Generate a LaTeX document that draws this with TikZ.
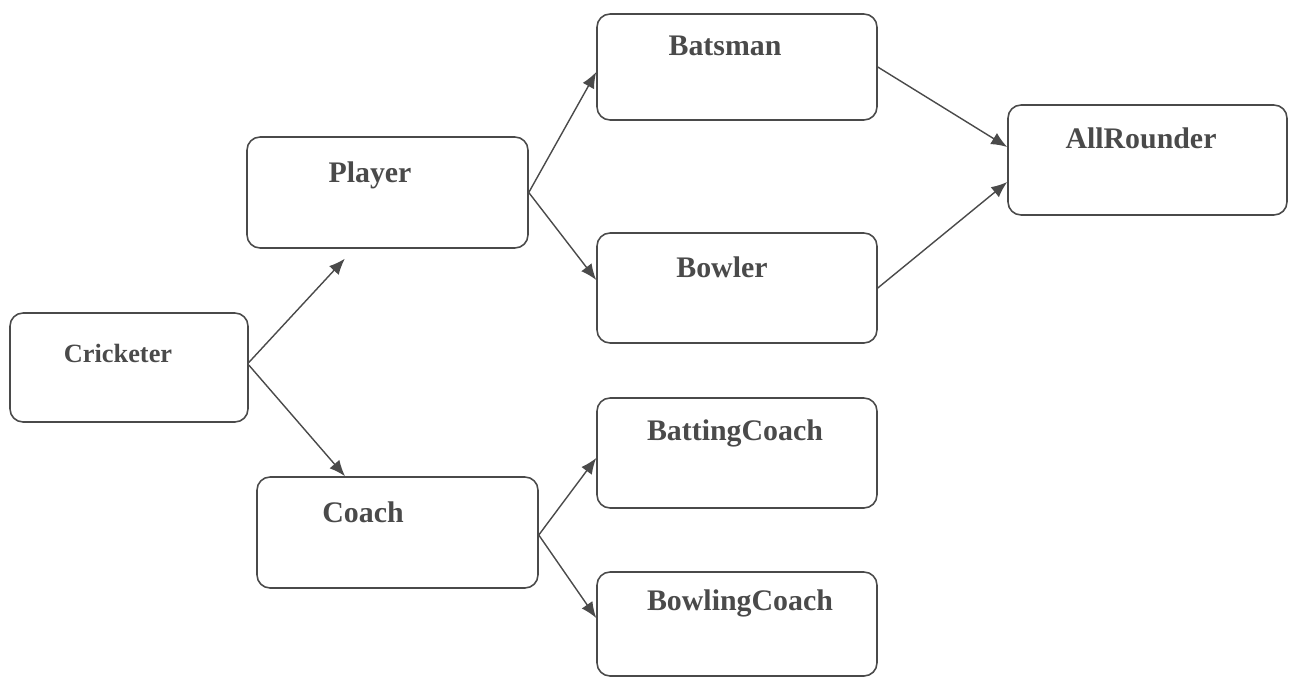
\documentclass[tikz,border=0pt]{standalone}
\usepackage{fontspec}
\setmainfont{Liberation Serif}
\usetikzlibrary{arrows.meta}
\definecolor{inkgray}{HTML}{4A4A4A}
\tikzset{%
    box/.style={draw=inkgray, line width=0.9pt, rounded corners=2.6mm,
    	minimum width=5.6cm, minimum height=2.2cm, inner sep=0pt},
    lbl/.style={anchor=base, text=inkgray,
    	font=\fontsize{17}{20}\selectfont\bfseries},
    link/.style={draw=inkgray, line width=0.8pt,
    	-{Latex[length=3.2mm, width=2.6mm]}}
}

\begin{document}
\begin{tikzpicture}[x=0.02cm, y=-0.02cm]
  \useasboundingbox (0,0) rectangle (1292,677);

  \node (cricketer) [box, minimum width=4.76cm, minimum height=2.18cm] at (129, 367.5) {};
  \node (player) [box, minimum width=5.62cm, minimum height=2.22cm] at (387.5, 192.5) {};
  \node (coach) [box, minimum width=5.62cm, minimum height=2.22cm] at (397.5, 532.5) {};
  \node (batsman) [box, minimum height=2.12cm] at (737, 67) {};
  \node (bowler) [box] at (737, 288) {};
  \node (battingcoach) [box] at (737, 453) {};
  \node (bowlingcoach) [box, minimum height=2.08cm] at (737, 624) {};
  \node (allrounder) [box, minimum width=5.58cm] at (1147.5, 160) {};

  \node (cricketer-t) [lbl, font=\fontsize{15}{18}\selectfont\bfseries] at (118, 362) {Cricketer};
  \node (player-t) [lbl] at (370, 182) {Player};
  \node (coach-t) [lbl] at (363, 522) {Coach};
  \node (batsman-t) [lbl] at (725, 55) {Batsman};
  \node (bowler-t) [lbl] at (722, 277) {Bowler};
  \node (battingcoach-t) [lbl] at (735, 440) {BattingCoach};
  \node (bowlingcoach-t) [lbl] at (740, 610) {BowlingCoach};
  \node (allrounder-t) [lbl] at (1141, 148) {AllRounder};

  \draw [link, shorten >=0.27cm] ([yshift=0.1cm]cricketer.east) -- ([xshift=-0.67cm]player.south);
  \draw [link] ([yshift=0.05cm]cricketer.east) -- ([xshift=-1.05cm]coach.north);
  \draw [link] (player.east) -- ([yshift=-0.1cm]batsman.west);
  \draw [link] (player.east) -- ([yshift=0.16cm]bowler.west);
  \draw [link] ([yshift=-0.05cm]coach.east) -- ([yshift=-0.1cm]battingcoach.west);
  \draw [link] ([yshift=-0.05cm]coach.east) -- ([yshift=0.12cm]bowlingcoach.west);
  \draw [link] (batsman.east) -- ([yshift=0.26cm]allrounder.west);
  \draw [link] (bowler.east) -- ([yshift=-0.44cm]allrounder.west);
\end{tikzpicture}
\end{document}
